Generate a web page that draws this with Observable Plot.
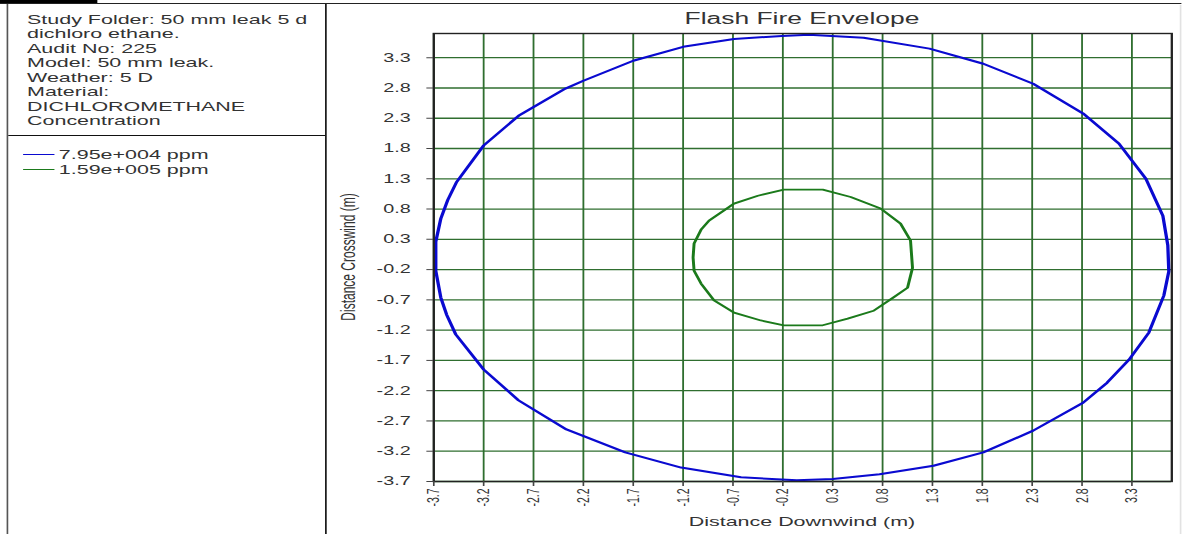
<!DOCTYPE html>
<html>
<head>
<meta charset="utf-8">
<script src="https://cdn.jsdelivr.net/npm/d3@7"></script>
<script src="https://cdn.jsdelivr.net/npm/@observablehq/plot@0.6"></script>
<style>
  html, body { margin: 0; padding: 0; background: #fff; overflow: hidden; }
  #page {
    position: relative; width: 716.4px; height: 534px;
    transform: scaleX(1.65); transform-origin: 0 0;
    font-family: "Liberation Sans", Arial, sans-serif; color: #333;
  }
  #cap { position: absolute; left: 0; top: 0; width: 58.8px; height: 3px; background: #000; }
  #rule { position: absolute; left: 0; top: 3px; width: 716.4px; height: 1.4px; background: #222; }
  #edge { position: absolute; left: 715px; top: 5px; width: 1px; height: 529px; background: #e2e2e2; }
  #panel {
    position: absolute; left: 4.4px; top: 4px; width: 192px; height: 530px;
    border-left: 1px solid #555; border-right: 1.6px solid #111;
  }
  #info { position: absolute; left: 11px; top: 8.7px; font-size: 13px; line-height: 14.5px; white-space: nowrap; }
  #divider { position: absolute; left: 0; top: 130.5px; width: 192px; height: 0; border-top: 1.4px solid #111; }
  .leg { position: absolute; left: 8.6px; height: 15px; font-size: 13px; line-height: 15px; white-space: nowrap; }
  .leg i { display: inline-block; width: 18.7px; height: 0; border-top: 1.4px solid; vertical-align: middle; margin-right: 3px; position: relative; top: -1px; }
  #title { position: absolute; left: 262.4px; width: 447.3px; top: 10px; text-align: center; font-size: 16px; line-height: 18px; color: #333; }
  #xlabel { position: absolute; left: 262.4px; width: 447.3px; top: 514px; text-align: center; font-size: 13px; line-height: 16px; }
  #ylabel {
    position: absolute; left: 211px; top: 257px; font-size: 12px; line-height: 14px; white-space: nowrap;
    transform: translate(-50%, -50%) rotate(-90deg);
  }
  #chart { position: absolute; left: 200px; top: 28px; }
</style>
</head>
<body>
<div id="page">
  <div id="cap"></div>
  <div id="rule"></div>
  <div id="edge"></div>
  <div id="panel">
    <div id="info"></div>
    <div id="divider"></div>
    <div id="legend"></div>
  </div>
  <div id="title">Flash Fire Envelope</div>
  <div id="chart"></div>
  <div id="xlabel">Distance Downwind (m)</div>
  <div id="ylabel">Distance Crosswind (m)</div>
</div>
<script>
// Run description shown in the side panel
const infoLines = [
  "Study Folder: 50 mm leak 5 d",
  "dichloro ethane.",
  "Audit No: 225",
  "Model: 50 mm leak.",
  "Weather: 5 D",
  "Material:",
  "DICHLOROMETHANE",
  "Concentration"
];

// Concentration levels of the two envelopes
const levels = ["7.95e+004 ppm", "1.59e+005 ppm"];
const levelColors = ["#0a0ad0", "#1b7a1b"];

// Outer envelope (7.95e+004 ppm), closed contour in metres
const outerX = [-3.68, -3.68, -3.63, -3.56, -3.47, -3.20, -2.85, -2.38, -2.20, -1.70, -1.20, -0.69, -0.21, 0.06,
  0.61, 1.27, 1.81, 2.31, 2.81, 3.17, 3.44, 3.61, 3.66, 3.67,
  3.62, 3.47, 3.27, 3.05, 2.81, 2.31, 1.81, 1.31, 0.77, 0.30, -0.06,
  -0.62, -1.22, -1.78, -2.37, -2.85, -3.20, -3.48, -3.57, -3.63, -3.68];
const outerY = [-0.22, 0.26, 0.64, 0.95, 1.25, 1.85, 2.34, 2.79, 2.92, 3.25, 3.48, 3.61, 3.66, 3.68,
  3.63, 3.45, 3.20, 2.87, 2.38, 1.88, 1.30, 0.69, 0.20, -0.23,
  -0.63, -1.24, -1.69, -2.07, -2.40, -2.86, -3.22, -3.44, -3.58, -3.66, -3.68,
  -3.63, -3.47, -3.22, -2.84, -2.36, -1.85, -1.27, -0.95, -0.66, -0.22];

// Inner envelope (1.59e+005 ppm), closed contour in metres
const innerX = [-1.10, -1.09, -1.02, -0.94, -0.69, -0.45, -0.19, 0.20, 0.48, 0.78, 0.98, 1.08, 1.10,
  1.05, 0.91, 0.71, 0.45, 0.20, -0.19, -0.42, -0.69, -0.89, -1.02, -1.09, -1.10];
const innerY = [0.00, 0.23, 0.46, 0.61, 0.89, 1.02, 1.12, 1.12, 1.00, 0.81, 0.56, 0.28, -0.17,
  -0.50, -0.66, -0.88, -1.01, -1.12, -1.12, -1.04, -0.91, -0.71, -0.43, -0.22, 0.00];

// Axis ticks (metres)
const xTicks = [-3.7, -3.2, -2.7, -2.2, -1.7, -1.2, -0.7, -0.2, 0.3, 0.8, 1.3, 1.8, 2.3, 2.8, 3.3];
const yTicks = [-3.7, -3.2, -2.7, -2.2, -1.7, -1.2, -0.7, -0.2, 0.3, 0.8, 1.3, 1.8, 2.3, 2.8, 3.3];
const extent = [-3.7, 3.7];

// Side panel text and legend
document.getElementById("info").innerHTML = infoLines.map(t => `<div>${t}</div>`).join("");
document.getElementById("legend").innerHTML = levels.map((t, i) =>
  `<div class="leg" style="top:${142.5 + i * 15}px"><i style="border-color:${levelColors[i]}"></i>${t}</div>`
).join("");

const gridColor = "#2f6e2f";

const chart = Plot.plot({
  width: 516.4,
  height: 506,
  marginLeft: 62.4,
  marginRight: 6.7,
  marginTop: 5,
  marginBottom: 53,
  style: { fontFamily: "'Liberation Sans', Arial, sans-serif", color: "#333", background: "transparent" },
  x: { domain: extent },
  y: { domain: extent },
  marks: [
    Plot.gridX(xTicks, { stroke: gridColor, strokeOpacity: 1, strokeWidth: 1.1 }),
    Plot.gridY(yTicks, { stroke: gridColor, strokeOpacity: 1, strokeWidth: 1.3 }),
    Plot.line(outerX, { x: outerX, y: outerY, stroke: levelColors[0], strokeWidth: 2 }),
    Plot.line(innerX, { x: innerX, y: innerY, stroke: levelColors[1], strokeWidth: 1.8 }),
    Plot.frame({ stroke: "#222", strokeWidth: 1.4 }),
    Plot.axisY(yTicks, { tickSize: 4, tickPadding: 10, fontSize: 12, label: null, tickFormat: d => String(d), stroke: "#444" }),
    Plot.axisX(xTicks, { tickSize: 5, tickPadding: 2, tickRotate: -90, fontSize: 10.5, label: null, tickFormat: d => String(d), stroke: "#444" })
  ]
});
document.getElementById("chart").appendChild(chart);
</script>
</body>
</html>
